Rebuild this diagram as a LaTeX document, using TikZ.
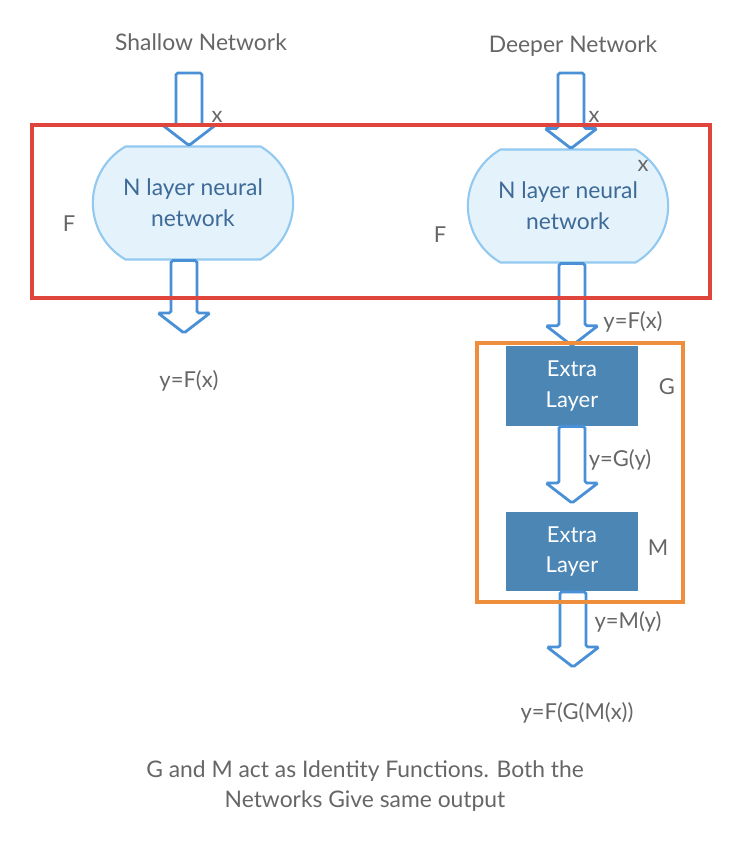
\documentclass[tikz,border=0pt]{standalone}
\usepackage{fontspec}
\setmainfont{Lato}
\usetikzlibrary{calc,shapes.misc}

\definecolor{arrowblue}{HTML}{4A90D6}
\definecolor{netedge}{HTML}{92C9F0}
\definecolor{netfill}{HTML}{E4F2FB}
\definecolor{nettext}{HTML}{3D6A96}
\definecolor{layerfill}{HTML}{4C86B4}
\definecolor{labelgray}{HTML}{666666}
\definecolor{framered}{HTML}{E0453D}
\definecolor{frameorange}{HTML}{EE8D3B}

\tikzset{
  title/.style={text=labelgray, font=\fontsize{13}{15}\selectfont},
  lbl/.style={text=labelgray, font=\fontsize{12.5}{15}\selectfont, inner sep=0pt},
  netnode/.style={draw=netedge, line width=1.2pt, fill=netfill, text=nettext,
    rounded rectangle, rounded rectangle arc length=120,
    minimum width=4.24cm, minimum height=2.26cm, align=center,
    font=\fontsize{13}{17.6}\selectfont},
  layer/.style={fill=layerfill, text=white, minimum width=2.64cm, minimum height=1.6cm,
    align=center, font=\fontsize{12.5}{17.6}\selectfont},
  hollow/.style={draw=arrowblue, line width=1.6pt, fill=white, rounded corners=1pt},
}
% hollow block arrow from #1 (top of shaft) down to #2 (tip)
\newcommand\blockarrow[2]{\draw[hollow] let \p1=(#1), \p2=(#2) in
  (\x1-0.26cm,\y1) -- (\x1-0.26cm,\y2+0.4cm) -- (\x1-0.52cm,\y2+0.4cm) -- (\x1,\y2)
  -- (\x1+0.52cm,\y2+0.4cm) -- (\x1+0.26cm,\y2+0.4cm) -- (\x1+0.26cm,\y1) -- cycle;}

\begin{document}
\begin{tikzpicture}[x=0.02cm,y=-0.02cm]
  \useasboundingbox (0,0) rectangle (748,854);

  % titles
  \node[title] (shallow) at (201,42) {Shallow Network};
  \node[title] (deeper) at (573,46) {Deeper Network};

  % networks
  \node[netnode] (netA) at (193,203) {N layer neural\\network};
  \node[netnode] (netB) at (568,206) {N layer neural\\network};

  % extra layers
  \node[layer] (layG) at (572,386) {Extra\\Layer};
  \node[layer] (layM) at (572,551.5) {Extra\\Layer};

  % arrow ends
  \coordinate (inA) at (189,73);   \coordinate (inAtip) at (inA |- netA.north);
  \coordinate (inB) at (571,73);   \coordinate (inBtip) at (inB |- netB.north);
  \coordinate (outAtip) at (184,333); \coordinate (outA) at (outAtip |- netA.south);
  \coordinate (outB) at (572,0 |- netB.south); \coordinate (outBtip) at (outB |- layG.north);
  \coordinate (outG) at (layG.south); \coordinate (outGtip) at (572,503);
  \coordinate (outMtip) at (573,667); \coordinate (outM) at (outMtip |- layM.south);

  \blockarrow{inA}{inAtip}
  \blockarrow{inB}{inBtip}
  \blockarrow{outA}{outAtip}
  \blockarrow{outB}{outBtip}
  \blockarrow{outG}{outGtip}
  \blockarrow{outM}{outMtip}

  % frames
  \draw[framered, line width=2.3pt] (32,125) rectangle (710,298);
  \draw[frameorange, line width=2pt] (477,343) rectangle (683,602);

  % labels
  \node[lbl] (xA) at (217,117) {x};
  \node[lbl] (xB) at (594,117) {x};
  \node[lbl] (xC) at (643,166) {x};
  \node[lbl] (fA) at (69,224) {F};
  \node[lbl] (fB) at (440,235) {F};
  \node[lbl] (yA) at (189,381) {y=F(x)};
  \node[lbl] (yB) at (633,322) {y=F(x)};
  \node[lbl] (gL) at (667,387) {G};
  \node[lbl] (mL) at (658,548) {M};
  \node[lbl] (yG) at (620,460) {y=G(y)};
  \node[lbl] (yM) at (628,622) {y=M(y)};
  \node[lbl] (yOut) at (577,713) {y=F(G(M(x))};

  \node[lbl, align=center, font=\fontsize{13}{17.6}\selectfont] (note) at (365,786)
    {G and M act as Identity Functions. Both the\\Networks Give same output};
\end{tikzpicture}
\end{document}
